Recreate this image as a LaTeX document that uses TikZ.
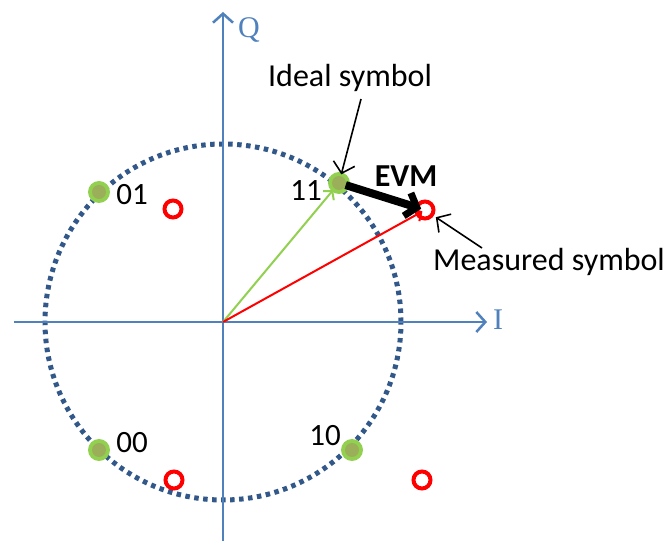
\documentclass[tikz,border=0pt]{standalone}
\usepackage{fontspec}
\setmainfont{Carlito}
\newfontfamily\axisfont{Liberation Serif}
\usetikzlibrary{arrows.meta}
\definecolor{axisblue}{RGB}{79,129,189}
\definecolor{ringblue}{RGB}{50,88,138}
\definecolor{dotgreen}{RGB}{146,208,80}
\definecolor{dotinner}{RGB}{155,175,90}
\tikzset{
  axis/.style={draw=axisblue, line width=2.5pt, -{Straight Barb[length=9pt,width=20pt,line width=2.5pt]}},
  axislabel/.style={text=axisblue, font=\axisfont\fontsize{30}{32}\selectfont, inner sep=0pt},
  ring/.style={draw=ringblue, line width=5pt, dash pattern=on 4.5pt off 4.5pt},
  idealdot/.style={circle, fill=dotgreen, minimum size=22pt, inner sep=0pt,
    path picture={\fill[dotinner] (path picture bounding box.center) circle[radius=7pt];}},
  measdot/.style={circle, draw=red, line width=4pt, minimum size=17pt, inner sep=0pt},
  greenvec/.style={draw=dotgreen, line width=2pt, -{Straight Barb[length=6pt,width=14pt,line width=2pt]}},
  redvec/.style={draw=red, line width=2pt, -{Straight Barb[length=6pt,width=14pt,line width=2pt]}},
  evm/.style={draw=black, line width=8pt, -{Straight Barb[length=10pt,width=24pt,line width=7pt]}},
  pointer/.style={draw=black, line width=1.6pt, -{Straight Barb[length=10pt,width=22pt,line width=1.6pt]}},
  lbl/.style={font=\fontsize{32}{34}\selectfont, inner sep=0pt},
  digit/.style={font=\fontsize{31}{33}\selectfont, inner sep=0pt},
}
\begin{document}
\begin{tikzpicture}[x=1pt,y=-1pt]
\useasboundingbox[fill=white] (0,0) rectangle (665,545);
\coordinate (O) at (223,322);
\coordinate (Ileft) at (14,322);
\coordinate (Iend) at (487,322);
\coordinate (Qbot) at (223,541);
\coordinate (Qtop) at (223,12);
\draw[ring] (O) circle[radius=178pt];
\draw[axis] (Ileft) -- (Iend);
\draw[axis] (Qbot) -- (Qtop);
\node[axislabel] (Ilab) at (498,320) {I};
\node[axislabel] (Qlab) at (249,30) {Q};
% measured symbols
\node[measdot] (m01) at (173,209) {};
\node[measdot] (m11) at (425,210) {};
\node[measdot] (m00) at (174,480) {};
\node[measdot] (m10) at (422,480) {};
% ideal symbols
\node[idealdot] (s01) at (99,192) {};
\node[idealdot] (s11) at (339,183) {};
\node[idealdot] (s00) at (99,450) {};
\node[idealdot] (s10) at (352,450) {};
% vectors
\draw[greenvec, shorten >=-2pt] (O) -- (s11);
\draw[redvec, shorten >=3pt] (O) -- (m11.center);
\draw[evm, shorten <=7pt, shorten >=4pt] (s11.center) -- (m11.center);
% labels
\node[digit] (l01) at (132,195) {01};
\node[digit] (l11) at (306,191) {11};
\node[digit] (l00) at (132,443) {00};
\node[digit] (l10) at (325,436) {10};
\node[lbl, font=\bfseries\fontsize{32}{34}\selectfont] (evmlbl) at (406,176) {EVM};
\node[lbl] (ideal) at (350,78) {Ideal symbol};
\node[lbl] (meas) at (549,262) {Measured symbol};
\coordinate (idealfoot) at (361,99);
\coordinate (measfoot) at (482,248);
\draw[pointer, shorten >=9pt] (idealfoot) -- (s11.center);
\draw[pointer, shorten >=13pt] (measfoot) -- (m11.center);
\end{tikzpicture}
\end{document}
